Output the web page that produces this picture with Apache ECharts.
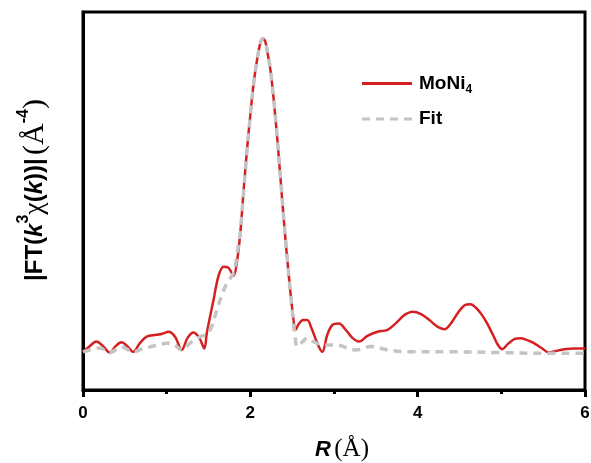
<!DOCTYPE html>
<html>
<head>
<meta charset="utf-8">
<script src="https://cdn.jsdelivr.net/npm/echarts@6/dist/echarts.min.js"></script>
<style>
  html, body { margin: 0; padding: 0; background: #fff; }
  #chart { width: 591px; height: 463px; }
</style>
</head>
<body>
<div id="chart"></div>
<script>
// EXAFS Fourier-transform magnitude: measured MoNi4 spectrum and its fit
const rMeasured = [0.00,0.08,0.16,0.24,0.32,0.39,0.46,0.53,0.60,0.68,0.76,0.88,0.95,1.02,1.10,1.18,1.25,1.32,1.39,1.45,1.48,1.56,1.62,1.68,1.74,1.80,1.84,1.88,1.92,1.96,2.00,2.04,2.08,2.12,2.15,2.18,2.21,2.24,2.28,2.32,2.36,2.40,2.44,2.48,2.51,2.54,2.58,2.63,2.68,2.73,2.80,2.86,2.92,2.98,3.06,3.14,3.22,3.30,3.40,3.52,3.64,3.74,3.84,3.94,4.04,4.14,4.24,4.32,4.40,4.48,4.56,4.63,4.70,4.77,4.83,4.90,4.96,5.01,5.08,5.16,5.23,5.31,5.39,5.48,5.57,5.65,5.75,5.88,6.00];
const ftMeasured = [1.01,1.16,1.28,1.16,0.99,1.16,1.26,1.16,1.01,1.24,1.41,1.46,1.49,1.54,1.41,1.06,1.38,1.52,1.38,1.10,1.51,2.38,3.02,3.26,3.23,3.02,3.39,4.15,5.29,6.35,7.28,8.12,8.73,9.18,9.30,9.21,8.86,8.47,7.67,6.70,5.61,4.50,3.49,2.57,1.98,1.59,1.75,1.85,1.85,1.64,1.24,1.01,1.46,1.72,1.76,1.59,1.38,1.28,1.43,1.54,1.59,1.77,1.98,2.07,2.01,1.85,1.67,1.61,1.77,2.04,2.24,2.27,2.17,1.98,1.76,1.46,1.19,1.08,1.22,1.35,1.37,1.32,1.24,1.11,0.99,1.03,1.08,1.10,1.10];

const rFit = [0.00,0.10,0.20,0.32,0.46,0.60,0.70,0.82,0.92,1.00,1.08,1.18,1.28,1.40,1.48,1.54,1.60,1.66,1.72,1.80,1.84,1.88,1.92,1.96,2.00,2.04,2.08,2.12,2.15,2.18,2.21,2.24,2.28,2.32,2.36,2.40,2.44,2.48,2.51,2.54,2.56,2.62,2.68,2.76,2.88,3.04,3.16,3.26,3.44,3.64,3.92,4.40,5.00,5.50,6.00];
const ftFit = [1.01,1.07,1.11,0.99,1.14,1.01,1.08,1.15,1.20,1.24,1.22,1.06,1.24,1.41,1.48,1.69,2.12,2.51,2.83,3.10,3.57,4.18,5.25,6.32,7.26,8.10,8.72,9.17,9.30,9.21,8.87,8.48,7.68,6.72,5.62,4.52,3.50,2.57,1.90,1.32,1.15,1.27,1.37,1.27,1.19,1.19,1.11,1.06,1.15,1.06,1.01,1.01,0.99,0.97,0.97];

const sans = 'Arial, "Liberation Sans", sans-serif';
const serif = '"Times New Roman", "Liberation Serif", serif';

const pair = (xs, ys) => xs.map((x, i) => [x, ys[i]]);

// legend keys: a solid bar and a row of dashes
const solidKey = 'path://M0,0H50V3H0Z';
const dashKey = 'path://M0,0H8V3H0ZM14,0H22V3H14ZM28,0H36V3H28ZM42,0H50V3H42Z';

const chart = echarts.init(document.getElementById('chart'), null, { renderer: 'canvas' });

chart.setOption({
  animation: false,
  backgroundColor: '#fff',
  grid: {
    left: 83, right: 6, top: 12, bottom: 73,
    outerBoundsMode: 'none',
    containLabel: false,
    show: true, borderColor: '#000', borderWidth: 3
  },
  legend: {
    orient: 'vertical',
    left: 362,
    top: 74,
    padding: 0,
    itemWidth: 50,
    itemHeight: 3,
    itemGap: 14,
    data: [
      { name: 'MoNi4', icon: solidKey },
      { name: 'Fit', icon: dashKey }
    ],
    formatter: function (name) {
      return name === 'MoNi4' ? '{t|MoNi}{sub|4}' : '{t|Fit}';
    },
    textStyle: {
      color: '#000',
      padding: [0, 0, 0, 2],
      rich: {
        t: { fontFamily: sans, fontWeight: 'bold', fontSize: 19, color: '#000' },
        sub: { fontFamily: sans, fontWeight: 'bold', fontSize: 12, color: '#000', verticalAlign: 'bottom', padding: [12, 0, 0, 0] }
      }
    }
  },
  xAxis: {
    type: 'value',
    min: 0, max: 6, interval: 2,
    axisLine: { lineStyle: { color: '#000', width: 3 } },
    axisTick: { show: true, inside: false, length: 7, lineStyle: { color: '#000', width: 3 } },
    minorTick: { show: true, splitNumber: 2, length: 4, lineStyle: { color: '#000', width: 3 } },
    axisLabel: {
      color: '#000', fontFamily: sans, fontWeight: 'bold', fontSize: 17, margin: 15
    },
    splitLine: { show: false },
    name: '{r|R} {s|(Å)}',
    nameLocation: 'middle',
    nameGap: 47,
    nameTextStyle: {
      padding: [0, 0, 0, 16],
      rich: {
        r: { fontFamily: sans, fontWeight: 'bold', fontStyle: 'italic', fontSize: 22, color: '#000' },
        s: { fontFamily: serif, fontSize: 25, color: '#000' }
      }
    }
  },
  yAxis: {
    type: 'value',
    min: 0, max: 10,
    axisLine: { show: true, lineStyle: { color: '#000', width: 3 } },
    axisTick: { show: false },
    axisLabel: { show: false },
    splitLine: { show: false },
    name: '{b||FT(}{bi|k}{sup|3}{chi|χ}{b|(}{bi|k}{b|))|} {s|(Å}{sup|-4}{s|)}',
    nameLocation: 'middle',
    nameRotate: 90,
    nameGap: 29,
    nameTextStyle: {
      padding: [0, 0, 0, 22],
      rich: {
        b: { fontFamily: sans, fontWeight: 'bold', fontSize: 24, color: '#000', lineHeight: 38 },
        bi: { fontFamily: sans, fontWeight: 'bold', fontStyle: 'italic', fontSize: 24, color: '#000', lineHeight: 38 },
        chi: { fontFamily: serif, fontSize: 28, color: '#000', lineHeight: 38 },
        s: { fontFamily: serif, fontSize: 30, color: '#000', lineHeight: 38 },
        sup: { fontFamily: sans, fontWeight: 'bold', fontSize: 16, color: '#000', verticalAlign: 'top', lineHeight: 15 }
      }
    }
  },
  series: [
    {
      name: 'MoNi4',
      type: 'line',
      data: pair(rMeasured, ftMeasured),
      smooth: 0.35,
      showSymbol: false,
      symbol: 'none',
      lineStyle: { color: '#d42020', width: 2.5 },
      itemStyle: { color: '#d42020' },
      z: 2
    },
    {
      name: 'Fit',
      type: 'line',
      data: pair(rFit, ftFit),
      smooth: 0.35,
      showSymbol: false,
      symbol: 'none',
      lineStyle: { color: '#c4c4c4', width: 3.5, type: [8, 6] },
      itemStyle: { color: '#c4c4c4' },
      z: 3
    }
  ]
});
</script>
</body>
</html>
